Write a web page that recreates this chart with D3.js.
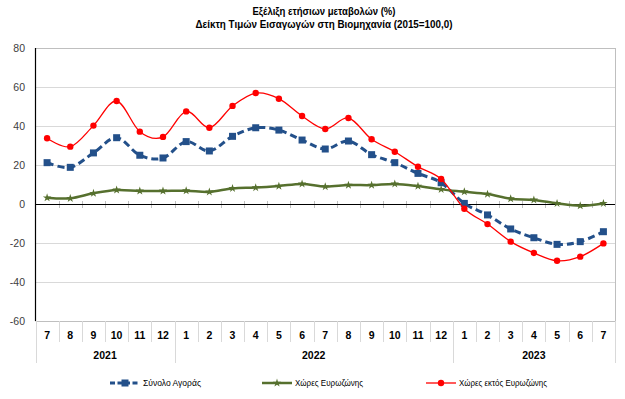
<!DOCTYPE html>
<html>
<head>
<meta charset="utf-8">
<script src="https://cdn.jsdelivr.net/npm/d3@7"></script>
<style>
  body { margin: 0; background: #fff; }
  svg { font-family: "Liberation Sans", Arial, sans-serif; }
</style>
</head>
<body>
<svg id="chart" width="625" height="399"></svg>
<script>
// data
const months = ['7', '8', '9', '10', '11', '12', '1', '2', '3', '4', '5', '6', '7', '8', '9', '10', '11', '12', '1', '2', '3', '4', '5', '6', '7']
const years = [
  { label: '2021', from: 0, to: 6 },
  { label: '2022', from: 6, to: 18 },
  { label: '2023', from: 18, to: 25 },
]
const total = [21.2, 18.8, 26.2, 34.0, 25.0, 23.6, 32.0, 27.2, 34.7, 39.1, 37.9, 32.8, 28.2, 32.3, 25.3, 21.2, 15.7, 10.9, 0.3, -5.6, -12.8, -17.3, -20.7, -19.3, -14.2]
const euro = [3.2, 2.9, 5.5, 7.2, 6.7, 6.7, 6.8, 6.2, 8.0, 8.4, 9.2, 10.3, 8.9, 9.7, 9.7, 10.3, 9.2, 7.5, 6.3, 5.1, 2.7, 2.1, 0.3, -0.9, 0.3]
const nonEuro = [33.7, 29.4, 40.2, 52.8, 37.1, 34.4, 47.5, 39.1, 50.3, 56.9, 54.0, 45.1, 38.5, 44.1, 33.2, 26.8, 19.1, 12.8, -2.4, -10.3, -19.3, -25.1, -29.1, -27.0, -20.2]
const yTicks = [-60, -40, -20, 0, 20, 40, 60, 80]
const titles = ['Εξέλιξη ετήσιων μεταβολών (%)', 'Δείκτη Τιμών Εισαγωγών στη Βιομηχανία (2015=100,0)']

const series = [
  { name: 'Σύνολο Αγοράς', values: total, color: '#23508A', width: 3, dash: '7,4', marker: 'square' },
  { name: 'Χώρες Ευρωζώνης', values: euro, color: '#56702E', width: 2.5, dash: null, marker: 'star' },
  { name: 'Χώρες εκτός Ευρωζώνης', values: nonEuro, color: '#FF0000', width: 1.3, dash: null, marker: 'circle' },
]

const p = { left: 35.5, right: 615, top: 48, bottom: 321 }
const svg = d3.select('#chart')

const x = d3.scaleBand().domain(d3.range(months.length)).range([p.left, p.right])
const y = d3.scaleLinear().domain([-60, 80]).range([p.bottom, p.top])
const cx = i => x(i) + x.bandwidth() / 2

// titles (Calibri is not installed, so squeeze to the reference widths)
const titleLen = [143, 257]
svg.selectAll('text.title').data(titles).enter().append('text')
  .attr('class', 'title')
  .attr('x', 324).attr('y', (d, i) => 15 + i * 13)
  .attr('text-anchor', 'middle')
  .attr('textLength', (d, i) => titleLen[i])
  .attr('lengthAdjust', 'spacingAndGlyphs')
  .style('font-weight', 'bold').style('font-size', '11.5px').style('fill', '#000')
  .text(d => d)

// gridlines
svg.append('g').selectAll('line').data(yTicks.filter(d => d !== 0)).enter().append('line')
  .attr('x1', p.left).attr('x2', p.right)
  .attr('y1', d => Math.round(y(d)) + 0.5).attr('y2', d => Math.round(y(d)) + 0.5)
  .attr('stroke', d => (d === 80 || d === -60) ? '#BFBFBF' : '#D9D9D9').attr('stroke-width', 1)

// right border
svg.append('line')
  .attr('x1', p.right + 0.5).attr('x2', p.right + 0.5)
  .attr('y1', p.top).attr('y2', p.bottom)
  .attr('stroke', '#BFBFBF')

// y axis labels
svg.append('g').selectAll('text').data(yTicks).enter().append('text')
  .attr('x', 25).attr('y', d => y(d) + 4)
  .attr('text-anchor', 'end')
  .style('font-size', '10.5px').style('fill', '#404040')
  .text(d => d)

// category boundaries
const bounds = d3.range(months.length + 1).map(i => i === months.length ? p.right : x(i))
const yearEdges = years.map(d => d.from).concat([months.length])

// tick marks crossing the zero line
svg.append('g').selectAll('line').data(bounds.slice(1, -1)).enter().append('line')
  .attr('x1', d => Math.round(d) + 0.5).attr('x2', d => Math.round(d) + 0.5)
  .attr('y1', y(0) - 3).attr('y2', y(0) + 4)
  .attr('stroke', '#BFBFBF')

// separators under the chart
svg.append('g').selectAll('line').data(d3.range(months.length + 1)).enter().append('line')
  .attr('x1', i => Math.round(bounds[i]) + 0.5).attr('x2', i => Math.round(bounds[i]) + 0.5)
  .attr('y1', p.bottom)
  .attr('y2', i => yearEdges.includes(i) ? 363 : 342)
  .attr('stroke', '#D9D9D9')

// zero line and y axis
svg.append('line')
  .attr('x1', p.left).attr('x2', p.right)
  .attr('y1', Math.round(y(0)) + 0.5).attr('y2', Math.round(y(0)) + 0.5)
  .attr('stroke', '#000').attr('stroke-width', 1.2)
svg.append('line')
  .attr('x1', p.left).attr('x2', p.left)
  .attr('y1', p.top).attr('y2', p.bottom)
  .attr('stroke', '#000').attr('stroke-width', 1.2)

// month and year labels
svg.append('g').selectAll('text').data(months).enter().append('text')
  .attr('x', (d, i) => cx(i)).attr('y', 339)
  .attr('text-anchor', 'middle')
  .style('font-weight', 'bold').style('font-size', '10.5px').style('fill', '#000')
  .text(d => d)
svg.append('g').selectAll('text').data(years).enter().append('text')
  .attr('x', d => (bounds[d.from] + bounds[d.to]) / 2).attr('y', 359)
  .attr('text-anchor', 'middle')
  .style('font-weight', 'bold').style('font-size', '10.5px').style('fill', '#000')
  .text(d => d.label)

// markers
function drawMarker (g, type, color, px, py) {
  if (type === 'square') {
    g.append('rect').attr('x', px - 3.5).attr('y', py - 3.5).attr('width', 7).attr('height', 7).attr('fill', color)
  } else if (type === 'circle') {
    g.append('circle').attr('cx', px).attr('cy', py).attr('r', 3.2).attr('fill', color)
  } else {
    g.append('path').attr('d', d3.symbol(d3.symbolStar, 22)()).attr('transform', `translate(${px},${py})`).attr('fill', color)
  }
}

const line = d3.line().x((d, i) => cx(i)).y(d => y(d)).curve(d3.curveCardinal.tension(0))

series.forEach((s) => {
  const g = svg.append('g')
  g.append('path')
    .attr('d', line(s.values))
    .attr('fill', 'none')
    .attr('stroke', s.color)
    .attr('stroke-width', s.width)
    .attr('stroke-dasharray', s.dash)
  s.values.forEach((v, i) => drawMarker(g, s.marker, s.color, cx(i), y(v)))
})

// legend
const legendX = [110, 262, 426]
const legendLen = [58, 68, 88]
series.forEach((s, k) => {
  const g = svg.append('g').attr('transform', `translate(${legendX[k]},383)`)
  g.append('line')
    .attr('x1', 0).attr('x2', 30).attr('y1', 0).attr('y2', 0)
    .attr('stroke', s.color).attr('stroke-width', s.width)
    .attr('stroke-dasharray', s.dash ? '5,2.5' : null)
  drawMarker(g, s.marker, s.color, 15, 0)
  g.append('text')
    .attr('x', 33).attr('y', 3)
    .attr('textLength', legendLen[k])
    .attr('lengthAdjust', 'spacingAndGlyphs')
    .style('font-size', '9.5px').style('fill', '#000')
    .text(s.name)
})
</script>
</body>
</html>
